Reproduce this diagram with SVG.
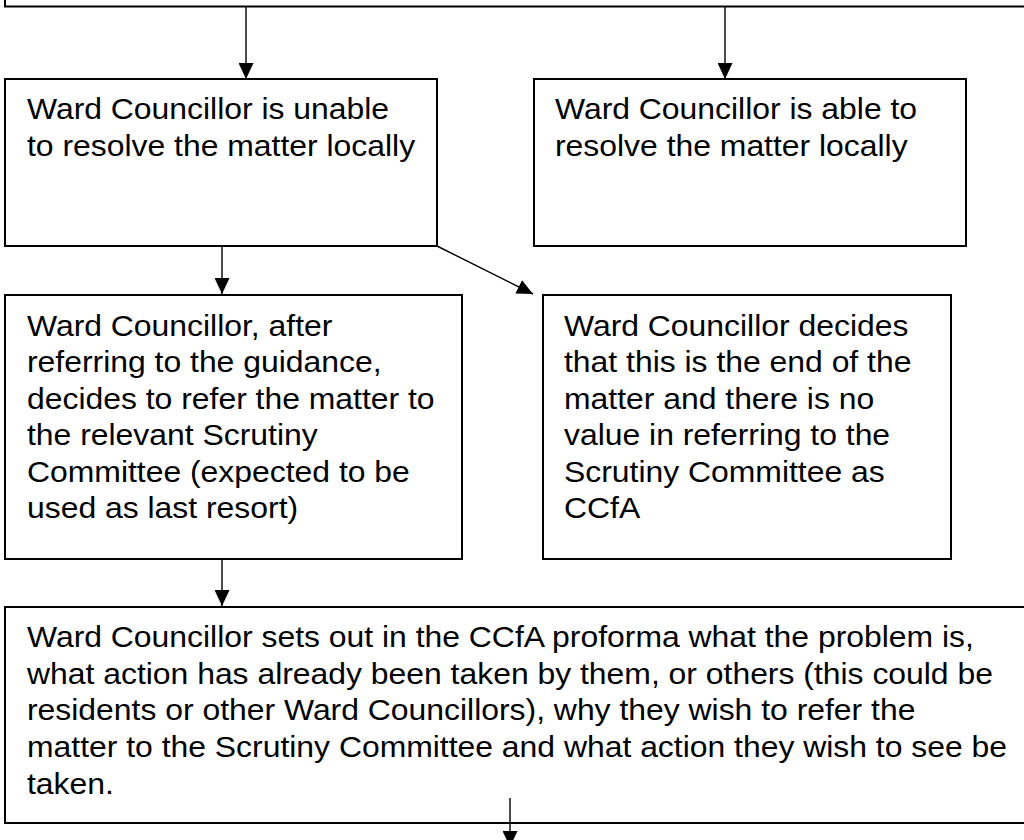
<svg xmlns="http://www.w3.org/2000/svg" width="1024" height="840" viewBox="0 0 1024 840">
<style>
.box{fill:#fff;stroke:#000;stroke-width:2}
.con{stroke:#000;stroke-width:1.4;fill:none}
.t{font-family:"Liberation Sans",Arial,Helvetica,sans-serif;font-size:29px;fill:#000}
</style>
<defs>
<marker id="ah" markerUnits="userSpaceOnUse" markerWidth="16" markerHeight="15" refX="16" refY="7.5" orient="auto" viewBox="0 0 16 15">
<path d="M0,0 L16,7.5 L0,15 z" fill="#000"/>
</marker>
</defs>
<rect width="1024" height="840" fill="#fff"/>
<g id="top-box">
<rect class="box" x="5" y="-60" width="1100" height="66.5"/>
</g>
<g id="unable">
<rect class="box" x="5" y="79" width="432" height="167"/>
<text class="t" transform="translate(27,0) scale(1.1,1)"><tspan x="0" y="119">Ward Councillor is unable</tspan><tspan x="0" y="156.5">to resolve the matter locally</tspan></text>
</g>
<g id="able">
<rect class="box" x="534" y="79" width="432" height="167"/>
<text class="t" transform="translate(555,0) scale(1.1,1)"><tspan x="0" y="119">Ward Councillor is able to</tspan><tspan x="0" y="156.5">resolve the matter locally</tspan></text>
</g>
<g id="refer">
<rect class="box" x="5" y="295" width="457" height="264"/>
<text class="t" transform="translate(27,0) scale(1.1,1)"><tspan x="0" y="336">Ward Councillor, after</tspan><tspan x="0" y="372.5">referring to the guidance,</tspan><tspan x="0" y="409">decides to refer the matter to</tspan><tspan x="0" y="445.5">the relevant Scrutiny</tspan><tspan x="0" y="482">Committee (expected to be</tspan><tspan x="0" y="518.5">used as last resort)</tspan></text>
</g>
<g id="end">
<rect class="box" x="543" y="295" width="408" height="264"/>
<text class="t" transform="translate(564,0) scale(1.1,1)"><tspan x="0" y="336">Ward Councillor decides</tspan><tspan x="0" y="372.5">that this is the end of the</tspan><tspan x="0" y="409">matter and there is no</tspan><tspan x="0" y="445.5">value in referring to the</tspan><tspan x="0" y="482">Scrutiny Committee as</tspan><tspan x="0" y="518.5">CCfA</tspan></text>
</g>
<g id="proforma">
<rect class="box" x="5" y="607" width="1100" height="216"/>
<text class="t" transform="translate(27,0) scale(1.1,1)"><tspan x="0" y="647">Ward Councillor sets out in the CCfA proforma what the problem is,</tspan><tspan x="0" y="683.7">what action has already been taken by them, or others (this could be</tspan><tspan x="0" y="720.4">residents or other Ward Councillors), why they wish to refer the</tspan><tspan x="0" y="757.1">matter to the Scrutiny Committee and what action they wish to see be</tspan><tspan x="0" y="793.8">taken.</tspan></text>
</g>
<g id="connectors">
<line class="con" x1="246" y1="7" x2="246" y2="79" marker-end="url(#ah)"/>
<line class="con" x1="725" y1="7" x2="725" y2="79" marker-end="url(#ah)"/>
<line class="con" x1="222" y1="246" x2="222" y2="294" marker-end="url(#ah)"/>
<line class="con" x1="437" y1="246" x2="533" y2="294" marker-end="url(#ah)"/>
<line class="con" x1="222" y1="559" x2="222" y2="606" marker-end="url(#ah)"/>
<line class="con" x1="510" y1="798" x2="510" y2="847" marker-end="url(#ah)"/>
</g>
</svg>
